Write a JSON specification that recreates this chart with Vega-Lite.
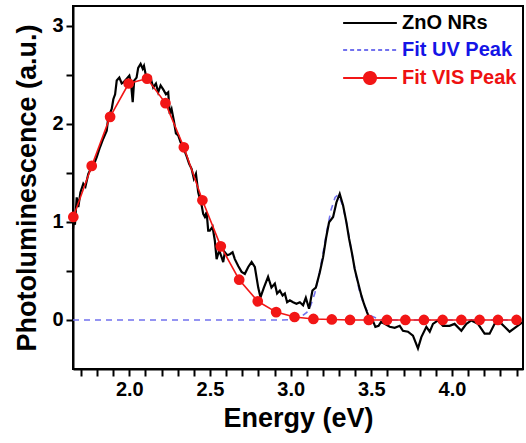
{
  "$schema": "https://vega.github.io/schema/vega-lite/v6.json",
  "autosize": {"type": "none"},
  "padding": {"left": 73, "top": 6, "right": 3, "bottom": 74},
  "width": 450,
  "height": 363,
  "background": "white",
  "config": {
    "view": {"stroke": "black", "strokeWidth": 2},
    "font": "Liberation Sans",
    "axis": {"grid": false, "domainColor": "black", "tickColor": "black", "labelColor": "black", "titleColor": "black", "domainWidth": 2, "tickWidth": 2, "labelOverlap": false, "labelFlush": false, "labelBound": false}
  },
  "datasets": {
    "zno": [
      {"series":"ZnO NRs","E":1.651,"I":0.93},{"series":"ZnO NRs","E":1.656,"I":1.02},{"series":"ZnO NRs","E":1.663,"I":0.97},{"series":"ZnO NRs","E":1.674,"I":1.25},{"series":"ZnO NRs","E":1.684,"I":1.15},{"series":"ZnO NRs","E":1.697,"I":1.30},{"series":"ZnO NRs","E":1.715,"I":1.39},{"series":"ZnO NRs","E":1.728,"I":1.36},{"series":"ZnO NRs","E":1.746,"I":1.49},{"series":"ZnO NRs","E":1.77,"I":1.57},{"series":"ZnO NRs","E":1.784,"I":1.60},{"series":"ZnO NRs","E":1.798,"I":1.66},{"series":"ZnO NRs","E":1.818,"I":1.76},{"series":"ZnO NRs","E":1.839,"I":1.85},{"series":"ZnO NRs","E":1.86,"I":1.93},{"series":"ZnO NRs","E":1.87,"I":2.07},{"series":"ZnO NRs","E":1.891,"I":2.15},{"series":"ZnO NRs","E":1.901,"I":2.25},{"series":"ZnO NRs","E":1.912,"I":2.30},{"series":"ZnO NRs","E":1.922,"I":2.44},{"series":"ZnO NRs","E":1.938,"I":2.47},{"series":"ZnO NRs","E":1.953,"I":2.41},{"series":"ZnO NRs","E":1.963,"I":2.42},{"series":"ZnO NRs","E":1.984,"I":2.46},{"series":"ZnO NRs","E":2.0,"I":2.49},{"series":"ZnO NRs","E":2.01,"I":2.42},{"series":"ZnO NRs","E":2.021,"I":2.22},{"series":"ZnO NRs","E":2.03,"I":2.44},{"series":"ZnO NRs","E":2.045,"I":2.47},{"series":"ZnO NRs","E":2.055,"I":2.57},{"series":"ZnO NRs","E":2.07,"I":2.61},{"series":"ZnO NRs","E":2.083,"I":2.56},{"series":"ZnO NRs","E":2.091,"I":2.59},{"series":"ZnO NRs","E":2.103,"I":2.49},{"series":"ZnO NRs","E":2.117,"I":2.44},{"series":"ZnO NRs","E":2.132,"I":2.47},{"series":"ZnO NRs","E":2.148,"I":2.37},{"series":"ZnO NRs","E":2.165,"I":2.41},{"series":"ZnO NRs","E":2.179,"I":2.32},{"series":"ZnO NRs","E":2.194,"I":2.39},{"series":"ZnO NRs","E":2.21,"I":2.35},{"series":"ZnO NRs","E":2.227,"I":2.30},{"series":"ZnO NRs","E":2.241,"I":2.32},{"series":"ZnO NRs","E":2.251,"I":2.10},{"series":"ZnO NRs","E":2.262,"I":2.15},{"series":"ZnO NRs","E":2.276,"I":2.03},{"series":"ZnO NRs","E":2.289,"I":1.90},{"series":"ZnO NRs","E":2.303,"I":1.88},{"series":"ZnO NRs","E":2.318,"I":1.81},{"series":"ZnO NRs","E":2.334,"I":1.76},{"series":"ZnO NRs","E":2.355,"I":1.67},{"series":"ZnO NRs","E":2.371,"I":1.59},{"series":"ZnO NRs","E":2.386,"I":1.54},{"series":"ZnO NRs","E":2.40,"I":1.44},{"series":"ZnO NRs","E":2.413,"I":1.49},{"series":"ZnO NRs","E":2.427,"I":1.30},{"series":"ZnO NRs","E":2.438,"I":1.23},{"series":"ZnO NRs","E":2.448,"I":1.17},{"series":"ZnO NRs","E":2.458,"I":1.08},{"series":"ZnO NRs","E":2.468,"I":1.05},{"series":"ZnO NRs","E":2.479,"I":1.10},{"series":"ZnO NRs","E":2.489,"I":0.91},{"series":"ZnO NRs","E":2.499,"I":0.91},{"series":"ZnO NRs","E":2.516,"I":0.95},{"series":"ZnO NRs","E":2.53,"I":0.81},{"series":"ZnO NRs","E":2.541,"I":0.62},{"series":"ZnO NRs","E":2.557,"I":0.71},{"series":"ZnO NRs","E":2.572,"I":0.64},{"series":"ZnO NRs","E":2.582,"I":0.59},{"series":"ZnO NRs","E":2.592,"I":0.69},{"series":"ZnO NRs","E":2.607,"I":0.66},{"series":"ZnO NRs","E":2.623,"I":0.67},{"series":"ZnO NRs","E":2.64,"I":0.69},{"series":"ZnO NRs","E":2.654,"I":0.62},{"series":"ZnO NRs","E":2.675,"I":0.55},{"series":"ZnO NRs","E":2.696,"I":0.49},{"series":"ZnO NRs","E":2.716,"I":0.47},{"series":"ZnO NRs","E":2.737,"I":0.54},{"series":"ZnO NRs","E":2.758,"I":0.59},{"series":"ZnO NRs","E":2.778,"I":0.54},{"series":"ZnO NRs","E":2.799,"I":0.33},{"series":"ZnO NRs","E":2.813,"I":0.23},{"series":"ZnO NRs","E":2.834,"I":0.33},{"series":"ZnO NRs","E":2.86,"I":0.44},{"series":"ZnO NRs","E":2.881,"I":0.33},{"series":"ZnO NRs","E":2.902,"I":0.37},{"series":"ZnO NRs","E":2.916,"I":0.27},{"series":"ZnO NRs","E":2.933,"I":0.30},{"series":"ZnO NRs","E":2.95,"I":0.25},{"series":"ZnO NRs","E":2.964,"I":0.27},{"series":"ZnO NRs","E":2.978,"I":0.18},{"series":"ZnO NRs","E":2.995,"I":0.20},{"series":"ZnO NRs","E":3.015,"I":0.18},{"series":"ZnO NRs","E":3.036,"I":0.165},{"series":"ZnO NRs","E":3.057,"I":0.18},{"series":"ZnO NRs","E":3.077,"I":0.15},{"series":"ZnO NRs","E":3.094,"I":0.226},{"series":"ZnO NRs","E":3.114,"I":0.114},{"series":"ZnO NRs","E":3.135,"I":0.30},{"series":"ZnO NRs","E":3.156,"I":0.33},{"series":"ZnO NRs","E":3.18,"I":0.48},{"series":"ZnO NRs","E":3.201,"I":0.64},{"series":"ZnO NRs","E":3.22,"I":0.84},{"series":"ZnO NRs","E":3.238,"I":0.996},{"series":"ZnO NRs","E":3.263,"I":1.05},{"series":"ZnO NRs","E":3.284,"I":1.20},{"series":"ZnO NRs","E":3.304,"I":1.285},{"series":"ZnO NRs","E":3.325,"I":1.166},{"series":"ZnO NRs","E":3.345,"I":1.0},{"series":"ZnO NRs","E":3.362,"I":0.83},{"series":"ZnO NRs","E":3.38,"I":0.68},{"series":"ZnO NRs","E":3.397,"I":0.52},{"series":"ZnO NRs","E":3.418,"I":0.38},{"series":"ZnO NRs","E":3.438,"I":0.25},{"series":"ZnO NRs","E":3.455,"I":0.16},{"series":"ZnO NRs","E":3.473,"I":0.08},{"series":"ZnO NRs","E":3.49,"I":0.01},{"series":"ZnO NRs","E":3.51,"I":-0.01},{"series":"ZnO NRs","E":3.525,"I":-0.07},{"series":"ZnO NRs","E":3.545,"I":-0.06},{"series":"ZnO NRs","E":3.56,"I":-0.02},{"series":"ZnO NRs","E":3.583,"I":-0.04},{"series":"ZnO NRs","E":3.614,"I":-0.07},{"series":"ZnO NRs","E":3.645,"I":-0.08},{"series":"ZnO NRs","E":3.676,"I":-0.06},{"series":"ZnO NRs","E":3.696,"I":-0.11},{"series":"ZnO NRs","E":3.727,"I":-0.12},{"series":"ZnO NRs","E":3.758,"I":-0.16},{"series":"ZnO NRs","E":3.789,"I":-0.29},{"series":"ZnO NRs","E":3.81,"I":-0.175},{"series":"ZnO NRs","E":3.841,"I":-0.07},{"series":"ZnO NRs","E":3.862,"I":-0.12},{"series":"ZnO NRs","E":3.882,"I":-0.04},{"series":"ZnO NRs","E":3.913,"I":-0.005},{"series":"ZnO NRs","E":3.944,"I":-0.06},{"series":"ZnO NRs","E":3.985,"I":-0.06},{"series":"ZnO NRs","E":4.016,"I":-0.04},{"series":"ZnO NRs","E":4.058,"I":-0.11},{"series":"ZnO NRs","E":4.089,"I":-0.04},{"series":"ZnO NRs","E":4.12,"I":-0.005},{"series":"ZnO NRs","E":4.161,"I":-0.04},{"series":"ZnO NRs","E":4.202,"I":-0.14},{"series":"ZnO NRs","E":4.233,"I":-0.14},{"series":"ZnO NRs","E":4.264,"I":-0.04},{"series":"ZnO NRs","E":4.295,"I":-0.02},{"series":"ZnO NRs","E":4.326,"I":-0.07},{"series":"ZnO NRs","E":4.357,"I":-0.12},{"series":"ZnO NRs","E":4.398,"I":-0.07},{"series":"ZnO NRs","E":4.44,"I":-0.02}
    ],
    "uv": [
      {"series":"Fit UV Peak","E":1.651,"I":0},{"series":"Fit UV Peak","E":2.95,"I":0},{"series":"Fit UV Peak","E":3.0,"I":0.002},{"series":"Fit UV Peak","E":3.05,"I":0.014},{"series":"Fit UV Peak","E":3.1,"I":0.076},{"series":"Fit UV Peak","E":3.125,"I":0.151},{"series":"Fit UV Peak","E":3.15,"I":0.275},{"series":"Fit UV Peak","E":3.175,"I":0.452},{"series":"Fit UV Peak","E":3.2,"I":0.675},{"series":"Fit UV Peak","E":3.225,"I":0.913},{"series":"Fit UV Peak","E":3.25,"I":1.12},{"series":"Fit UV Peak","E":3.275,"I":1.248},{"series":"Fit UV Peak","E":3.29,"I":1.27},{"series":"Fit UV Peak","E":3.3,"I":1.26},{"series":"Fit UV Peak","E":3.325,"I":1.154},{"series":"Fit UV Peak","E":3.35,"I":0.959},{"series":"Fit UV Peak","E":3.375,"I":0.722},{"series":"Fit UV Peak","E":3.4,"I":0.494},{"series":"Fit UV Peak","E":3.425,"I":0.306},{"series":"Fit UV Peak","E":3.45,"I":0.172},{"series":"Fit UV Peak","E":3.475,"I":0.088},{"series":"Fit UV Peak","E":3.5,"I":0.041},{"series":"Fit UV Peak","E":3.55,"I":0.006},{"series":"Fit UV Peak","E":3.6,"I":0},{"series":"Fit UV Peak","E":4.44,"I":0}
    ],
    "vis": [
      {"series":"Fit VIS Peak","E":1.653,"I":1.05},{"series":"Fit VIS Peak","E":1.767,"I":1.57},{"series":"Fit VIS Peak","E":1.881,"I":2.07},{"series":"Fit VIS Peak","E":1.996,"I":2.41},{"series":"Fit VIS Peak","E":2.11,"I":2.46},{"series":"Fit VIS Peak","E":2.224,"I":2.21},{"series":"Fit VIS Peak","E":2.338,"I":1.76},{"series":"Fit VIS Peak","E":2.453,"I":1.22},{"series":"Fit VIS Peak","E":2.567,"I":0.75},{"series":"Fit VIS Peak","E":2.681,"I":0.41},{"series":"Fit VIS Peak","E":2.796,"I":0.19},{"series":"Fit VIS Peak","E":2.91,"I":0.08},{"series":"Fit VIS Peak","E":3.024,"I":0.03},{"series":"Fit VIS Peak","E":3.141,"I":0.01},{"series":"Fit VIS Peak","E":3.255,"I":0.005},{"series":"Fit VIS Peak","E":3.368,"I":0},{"series":"Fit VIS Peak","E":3.484,"I":0},{"series":"Fit VIS Peak","E":3.597,"I":0},{"series":"Fit VIS Peak","E":3.711,"I":0},{"series":"Fit VIS Peak","E":3.826,"I":0},{"series":"Fit VIS Peak","E":3.942,"I":0},{"series":"Fit VIS Peak","E":4.058,"I":0},{"series":"Fit VIS Peak","E":4.171,"I":0},{"series":"Fit VIS Peak","E":4.285,"I":0},{"series":"Fit VIS Peak","E":4.4,"I":0}
    ]
  },
  "layer": [
    {
      "data": {"name": "uv"},
      "mark": {"type": "line", "strokeWidth": 1.6, "strokeDash": [6, 5], "clip": false},
      "encoding": {
        "x": {"field": "E", "type": "quantitative", "scale": {"domain": [1.651, 4.44], "nice": false, "zero": false},
          "axis": {"orient": "bottom", "tickCount": 200, "values": [1.7,1.8,1.9,2.0,2.1,2.2,2.3,2.4,2.5,2.6,2.7,2.8,2.9,3.0,3.1,3.2,3.3,3.4,3.5,3.6,3.7,3.8,3.9,4.0,4.1,4.2,4.3,4.4],
            "labelExpr": "abs(datum.value * 2 - round(datum.value * 2)) < 0.001 ? format(datum.value, '.1f') : ''",
            "tickSize": 7, "labelFontSize": 20, "labelFontWeight": "bold", "labelFont": "Liberation Sans", "labelPadding": 3,
            "encode": {"ticks": {"update": {"y2": {"signal": "abs(datum.value * 2 - round(datum.value * 2)) < 0.001 ? 7 : 4"}}}},
            "title": "Energy (eV)", "titleFont": "Liberation Sans", "titleFontSize": 27, "titleFontWeight": "bold", "titlePadding": 6}},
        "y": {"field": "I", "type": "quantitative", "scale": {"domain": [-0.5, 3.2], "nice": false, "zero": false},
          "axis": {"orient": "left", "tickCount": 200, "values": [0, 0.5, 1, 1.5, 2, 2.5, 3],
            "labelExpr": "datum.value % 1 === 0 ? format(datum.value, 'd') : ''",
            "tickSize": 7, "labelFontSize": 20, "labelFontWeight": "bold", "labelFont": "Liberation Sans", "labelPadding": 3,
            "encode": {"ticks": {"update": {"x2": {"signal": "datum.value % 1 === 0 ? -7 : -4"}}}},
            "title": "Photoluminescence (a.u.)", "titleFont": "Liberation Sans", "titleFontSize": 27, "titleFontWeight": "bold", "titlePadding": 10}},
        "color": {"field": "series", "type": "nominal",
          "scale": {"domain": ["ZnO NRs", "Fit UV Peak", "Fit VIS Peak"], "range": ["#000000", "#7272ee", "#f21616"]},
          "legend": {
            "title": null, "orient": "none", "legendX": 287, "legendY": 7, "padding": 0,
            "symbolType": "M-3.8,0H3.8", "symbolSize": 200, "symbolStrokeWidth": 2,
            "labelFont": "Liberation Sans", "labelFontWeight": "bold", "labelFontSize": 20, "labelOffset": 22,
            "rowPadding": 7, "labelLimit": 300,
            "encode": {
              "symbols": {"update": {
                "shape": {"signal": "datum.value === 'Fit VIS Peak' ? 'M-3.8,0H-0.85A0.85,0.85 0 1,1 0.85,0A0.85,0.85 0 1,1 -0.85,0M0.85,0H3.8' : 'M-3.8,0H3.8'"},
                "strokeDash": {"signal": "datum.value === 'Fit UV Peak' ? [4, 3] : [1, 0]"},
                "fill": {"signal": "datum.value === 'Fit VIS Peak' ? '#f21616' : 'transparent'"},
                "opacity": {"value": 1}
              }},
              "labels": {"update": {
                "fill": {"signal": "datum.value === 'ZnO NRs' ? '#000000' : datum.value === 'Fit UV Peak' ? '#1414e6' : '#ee1111'"}
              }}
            }
          }
        }
      }
    },
    {
      "data": {"name": "zno"},
      "mark": {"type": "line", "strokeWidth": 2.2, "clip": false},
      "encoding": {
        "x": {"field": "E", "type": "quantitative", "scale": {"domain": [1.651, 4.44], "nice": false, "zero": false}},
        "y": {"field": "I", "type": "quantitative", "scale": {"domain": [-0.5, 3.2], "nice": false, "zero": false}},
        "color": {"field": "series", "type": "nominal", "scale": {"domain": ["ZnO NRs", "Fit UV Peak", "Fit VIS Peak"], "range": ["#000000", "#7272ee", "#f21616"]}}
      }
    },
    {
      "data": {"name": "vis"},
      "mark": {"type": "line", "strokeWidth": 1.6, "clip": false},
      "encoding": {
        "x": {"field": "E", "type": "quantitative", "scale": {"domain": [1.651, 4.44], "nice": false, "zero": false}},
        "y": {"field": "I", "type": "quantitative", "scale": {"domain": [-0.5, 3.2], "nice": false, "zero": false}},
        "color": {"field": "series", "type": "nominal", "scale": {"domain": ["ZnO NRs", "Fit UV Peak", "Fit VIS Peak"], "range": ["#000000", "#7272ee", "#f21616"]}}
      }
    },
    {
      "data": {"name": "vis"},
      "mark": {"type": "point", "filled": true, "size": 115, "opacity": 1, "clip": false},
      "encoding": {
        "x": {"field": "E", "type": "quantitative", "scale": {"domain": [1.651, 4.44], "nice": false, "zero": false}},
        "y": {"field": "I", "type": "quantitative", "scale": {"domain": [-0.5, 3.2], "nice": false, "zero": false}},
        "color": {"field": "series", "type": "nominal", "scale": {"domain": ["ZnO NRs", "Fit UV Peak", "Fit VIS Peak"], "range": ["#000000", "#7272ee", "#f21616"]}}
      }
    }
  ]
}
